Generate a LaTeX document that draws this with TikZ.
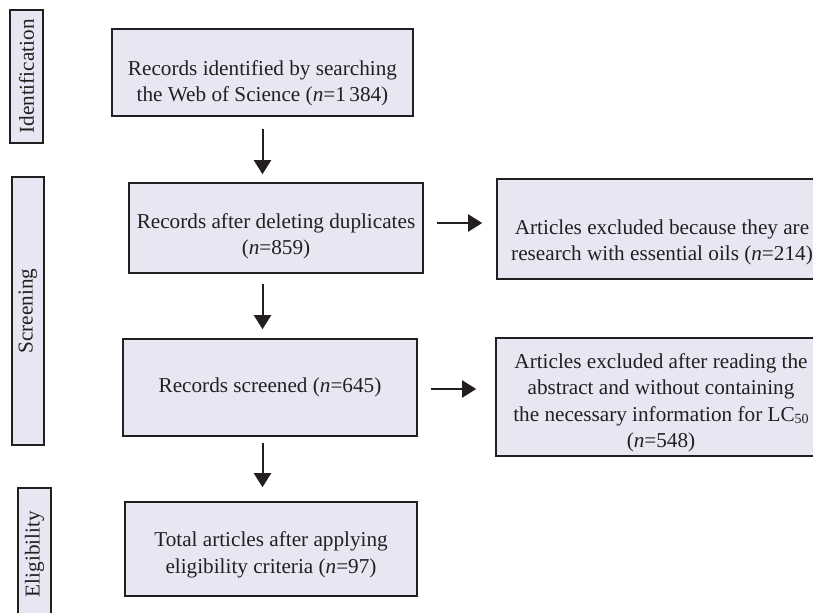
\documentclass[tikz,border=0pt]{standalone}
\usepackage{fontspec}
\setmainfont{Liberation Serif}
\usepackage{tikz}
\usetikzlibrary{positioning, calc, arrows.meta}
\definecolor{boxlilac}{RGB}{232,230,242}
\definecolor{edgedark}{RGB}{35,31,32}
\newcommand{\topgap}[1]{\rule{0pt}{#1}}

\begin{document}
\begin{tikzpicture}[x=0.5pt, y=-0.5pt, every node/.style={font=\fontsize{10.6}{13.2}\selectfont}]
		\tikzstyle{stepbox}=[draw=edgedark, line width=0.8pt, fill=boxlilac, text=edgedark, align=center, inner sep=0pt]
		\tikzstyle{phase}=[stepbox, rotate=90, minimum height=16.5pt]
		\tikzstyle{flow}=[draw=edgedark, line width=1pt, -{Triangle[length=7pt, width=8.5pt]}]
		
		\path [use as bounding box, fill=white] (0,0) rectangle (813,612);
		
		%% phases on the left
		\node [phase, minimum width=66.5pt] (ident) at (26.5,76.5) {Identification};
		\node [phase, minimum width=134pt, minimum height=16pt] (screen) at (28,311) {Screening};
		\node [phase, minimum width=66pt] (elig) at (34.5,554) {Eligibility};
		
		%% main column
		\node [stepbox, minimum width=150.5pt, minimum height=43.5pt] (rec) at (262.5,72.5) {\topgap{18pt}Records identified by searching\\the Web of Science (\textit{n}=1\,384)};
		\node [stepbox, minimum width=147pt, minimum height=45pt] (dup) at (276,228) {\topgap{16pt}Records after deleting duplicates\\(\textit{n}=859)};
		\node [stepbox, minimum width=147pt, minimum height=48.5pt] (scr) at (270,387.5) {Records screened (\textit{n}=645)};
		\node [stepbox, minimum width=146pt, minimum height=47pt] (tot) at (271,549) {\topgap{13.3pt}Total articles after applying\\eligibility criteria (\textit{n}=97)};
		
		%% exclusions
		\node [stepbox, minimum width=165pt, minimum height=50pt] (exA) at (662,229) {\topgap{21pt}Articles excluded because they are\\research with essential oils (\textit{n}=214)};
		\node [stepbox, minimum width=165pt, minimum height=59pt] (exB) at (661,397) {\topgap{13.3pt}Articles excluded after reading the\\abstract and without containing\\the necessary information for LC{\scriptsize\raisebox{-0.35ex}{50}}\\(\textit{n}=548)};
		
		\draw [flow, shorten <=6pt, shorten >=4pt] (rec.south) -- (rec.south |- dup.north);
		\draw [flow, shorten <=5pt, shorten >=4.5pt] (rec.south |- dup.south) -- (rec.south |- scr.north);
		\draw [flow, shorten <=3pt, shorten >=7pt] (rec.south |- scr.south) -- (rec.south |- tot.north);
		
		\draw [flow, shorten <=6.5pt, shorten >=7pt] ([yshift=2.5pt]dup.east) -- ([yshift=2.5pt]dup.east -| exA.west);
		\draw [flow, shorten <=6.5pt, shorten >=9.5pt] ([yshift=-0.75pt]scr.east) -- ([yshift=-0.75pt]scr.east -| exB.west);
		%%	
\end{tikzpicture}
\end{document}
